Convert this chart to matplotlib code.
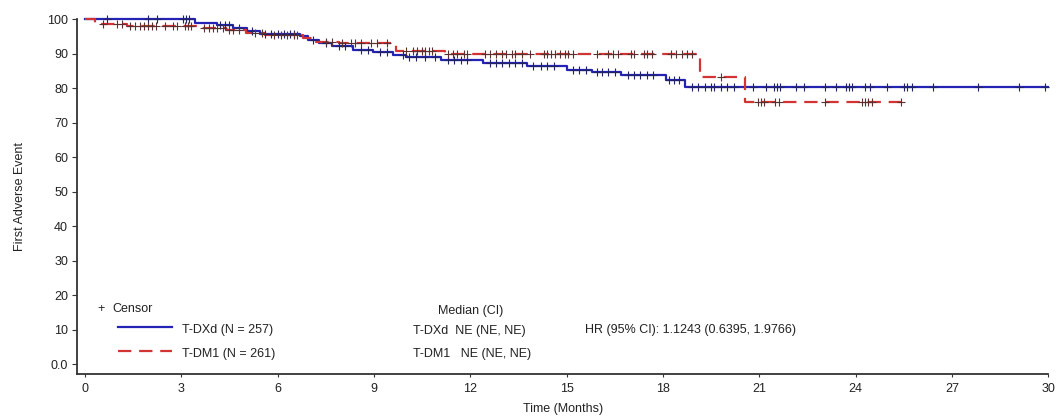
import matplotlib
matplotlib.use("Agg")
import matplotlib.pyplot as plt
import numpy as np
from matplotlib.lines import Line2D

plt.rcParams["font.family"] = ["Liberation Sans", "DejaVu Sans"]
plt.rcParams["text.color"] = "#222222"
plt.rcParams["axes.labelcolor"] = "#222222"
plt.rcParams["xtick.labelcolor"] = "#222222"
plt.rcParams["ytick.labelcolor"] = "#222222"

# Kaplan-Meier steps (time in months, % event-free)
DXD_TIMES = [0, 3.43, 4.1, 4.6, 5.04, 5.45, 6.7, 6.95, 7.3, 7.7, 8.35, 8.97, 9.6,
             10.0, 11.1, 12.4, 13.76, 15.0, 15.8, 16.7, 18.1, 18.7]
DXD_SURV = [100, 98.9, 98.3, 97.5, 96.6, 95.8, 95.1, 93.9, 93.0, 92.3, 91.2, 90.5, 89.6,
            88.9, 88.3, 87.4, 86.5, 85.4, 84.7, 83.8, 82.3, 80.2]
DXD_END = 30.0

DM1_TIMES = [0, 0.3, 1.3, 3.6, 4.4, 5.0, 5.6, 6.8, 7.2, 7.9, 9.7, 11.2, 19.15, 20.56]
DM1_SURV = [100, 98.5, 97.9, 97.3, 96.8, 96.0, 95.3, 94.5, 93.4, 93.0, 90.9, 89.9, 83.3, 76.0]
DM1_END = 25.4

DXD_CENSOR = [0.67, 1.96, 2.23, 3.05, 3.15, 3.25, 4.2, 4.35, 4.5, 4.8, 5.2, 5.6, 5.8, 6.0,
              6.2, 6.4, 6.5, 7.1, 7.5, 7.9, 8.1, 8.6, 8.8, 9.2, 9.4, 9.9, 10.1, 10.3, 10.6,
              10.9, 11.3, 11.5, 11.7, 11.9, 12.6, 12.8, 13.0, 13.2, 13.4, 13.6, 13.95, 14.2,
              14.4, 14.6, 15.2, 15.4, 15.6, 15.95, 16.1, 16.3, 16.5, 16.9, 17.1, 17.3, 17.5,
              17.7, 18.2, 18.35, 18.5, 18.9, 19.1, 19.3, 19.5, 19.6, 19.8, 20.0, 20.2, 20.8,
              21.2, 21.45, 21.55, 21.65, 22.15, 22.4, 23.05, 23.4, 23.7, 23.8, 23.9, 24.3,
              24.45, 24.97, 25.5, 25.6, 25.75, 26.4, 27.8, 29.1, 29.9]
DM1_CENSOR = [0.57, 1.0, 1.15, 1.4, 1.55, 1.7, 1.85, 1.95, 2.1, 2.2, 2.5, 2.75, 2.85, 3.1,
              3.2, 3.3, 3.7, 3.85, 4.0, 4.1, 4.3, 4.5, 4.6, 4.8, 5.3, 5.5, 5.9, 6.1, 6.3,
              6.5, 6.6, 7.5, 7.7, 8.0, 8.3, 8.4, 8.6, 8.9, 9.1, 9.4, 10.0, 10.2, 10.35, 10.5,
              10.6, 10.7, 10.8, 11.3, 11.45, 11.6, 11.8, 11.9, 12.45, 12.6, 12.8, 13.0, 13.1,
              13.3, 13.4, 13.6, 13.85, 14.3, 14.4, 14.5, 14.65, 14.8, 14.95, 15.05, 15.2,
              15.95, 16.3, 16.45, 16.6, 17.0, 17.1, 17.4, 17.5, 17.65, 18.25, 18.4, 18.6,
              18.75, 18.9, 19.8, 20.95, 21.05, 21.15, 21.5, 21.6, 23.05, 24.2, 24.3, 24.4,
              24.5, 25.4]

X_TICKS = list(range(0, 31, 3))
Y_TICKS = list(range(0, 101, 10))
Y_LABELS = ["0.0"] + [str(v) for v in Y_TICKS[1:]]

BLUE = "#2424b4"
RED = "#d23434"
BLUE_MARK = "#222266"
RED_MARK = "#5a3030"


def surv_at(times, surv, t):
    idx = np.searchsorted(times, t, side="right") - 1
    return np.asarray(surv)[idx]


def main():
    fig = plt.figure(figsize=(10.62, 4.17), dpi=100)
    ax = fig.add_axes([0.0725, 0.103, 0.9145, 0.851])

    for times, surv, end, cens, col, mcol, ls in [
        (DXD_TIMES, DXD_SURV, DXD_END, DXD_CENSOR, BLUE, BLUE_MARK, "-"),
        (DM1_TIMES, DM1_SURV, DM1_END, DM1_CENSOR, RED, RED_MARK, "--"),
    ]:
        tx = list(times) + [end]
        sy = list(surv) + [surv[-1]]
        line, = ax.step(tx, sy, where="post", color=col, lw=1.6, ls=ls,
                        clip_on=False, zorder=3)
        if ls == "--":
            line.set_dashes((6, 3.5))
        cy = surv_at(times, surv, np.array(cens))
        ax.plot(cens, cy, ls="none", marker="+", ms=6, mew=0.8, color=mcol,
                clip_on=False, zorder=4)

    ax.set_xlim(-0.25, 30)
    ax.set_ylim(-2.9, 100)
    ax.set_xticks(X_TICKS)
    ax.set_yticks(Y_TICKS)
    ax.set_yticklabels(Y_LABELS)
    ax.tick_params(labelsize=9, length=3.5, width=0.8, color="#333333", pad=3)
    ax.tick_params(axis="x", length=2.5, pad=4)
    for s in ["top", "right"]:
        ax.spines[s].set_visible(False)
    for s in ["left", "bottom"]:
        ax.spines[s].set_linewidth(1.3)
        ax.spines[s].set_color("#333333")
    ax.set_xlabel("Time (Months)", fontsize=9, labelpad=6)
    ax.set_ylabel("First Adverse Event", fontsize=9, labelpad=15)

    # legend block, lower left
    H, W = 417.0, 1062.0
    fx = lambda p: p / W
    fy = lambda p: 1 - p / H
    fig.text(fx(97), fy(309), "+", fontsize=9, va="center")
    fig.text(fx(112), fy(309), "Censor", fontsize=9, va="center")
    fig.add_artist(Line2D([fx(118), fx(172)], [fy(327), fy(327)], color=BLUE, lw=1.6))
    l2 = Line2D([fx(118), fx(172)], [fy(351), fy(351)], color=RED, lw=1.6, ls="--")
    l2.set_dashes((6, 3.5))
    fig.add_artist(l2)
    fig.text(fx(182), fy(330), "T-DXd (N = 257)", fontsize=9, va="center")
    fig.text(fx(182), fy(354), "T-DM1 (N = 261)", fontsize=9, va="center")

    fig.text(fx(471), fy(311), "Median (CI)", fontsize=9, va="center", ha="center")
    fig.text(fx(413), fy(331), "T-DXd  NE (NE, NE)", fontsize=9, va="center")
    fig.text(fx(413), fy(354), "T-DM1   NE (NE, NE)", fontsize=9, va="center")
    fig.text(fx(585), fy(330), "HR (95% CI): 1.1243 (0.6395, 1.9766)", fontsize=9,
             va="center")

    fig.savefig("out.png", dpi=100)
    plt.close(fig)


if __name__ == "__main__":
    main()
